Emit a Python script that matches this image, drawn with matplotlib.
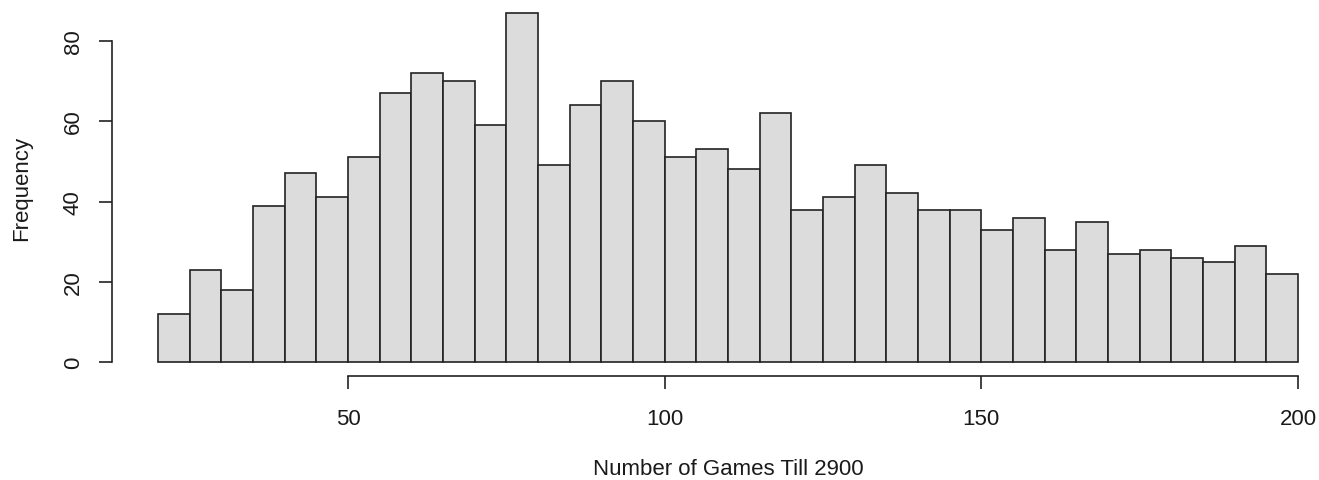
import matplotlib.pyplot as plt
import numpy as np

plt.rcParams['font.family'] = ['Liberation Sans', 'DejaVu Sans']

# counts per 5-game bin from 20 to 200
bin_edges = np.arange(20, 205, 5)
counts = [12, 23, 18, 39, 47, 41, 51, 67, 72, 70, 59, 87, 49, 64, 70, 60, 51, 53,
          48, 62, 38, 41, 49, 42, 38, 38, 33, 36, 28, 35, 27, 28, 26, 25, 29, 22]
x_ticks = [50, 100, 150, 200]
y_ticks = [0, 20, 40, 60, 80]

W, H = 1319, 481
fig = plt.figure(figsize=(W / 100, H / 100), dpi=100)

# plot region in pixels (R style, 4% padding on each side)
left, right = 112.4, 1343.6
top, bottom = -0.4, 377.3
ax = fig.add_axes([left / W, 1 - bottom / H, (right - left) / W, (bottom - top) / H])

ax.bar(bin_edges[:-1], counts, width=5, align='edge',
       color='#dcdcdc', edgecolor='#222222', linewidth=1.2)

ax.set_xlim(12.8, 207.2)
ax.set_ylim(-3.48, 90.48)

for s in ['top', 'right']:
    ax.spines[s].set_visible(False)
ax.spines['bottom'].set_bounds(50, 200)
ax.spines['left'].set_bounds(0, 80)
for s in ['bottom', 'left']:
    ax.spines[s].set_linewidth(1.2)
    ax.spines[s].set_color('#222222')

ax.set_xticks(x_ticks)
ax.set_yticks(y_ticks)
ax.tick_params(axis='both', length=9.5, width=1.2, color='#222222',
               labelsize=16, labelcolor='#1a1a1a')
ax.tick_params(axis='x', pad=13.5)
ax.tick_params(axis='y', pad=11)
for lab in ax.get_yticklabels():
    lab.set_rotation(90)
    lab.set_va('center')

ax.set_xlabel('Number of Games Till 2900', fontsize=16, color='#1a1a1a')
ax.xaxis.set_label_coords((728 / W), (H - 469.5) / H, transform=fig.transFigure)
ax.xaxis.label.set_va('center')
ax.set_ylabel('Frequency', fontsize=16, color='#1a1a1a')
ax.yaxis.set_label_coords(22 / W, (H - 188) / H, transform=fig.transFigure)
ax.yaxis.label.set_va('center')

fig.savefig('out.png', dpi=100)
